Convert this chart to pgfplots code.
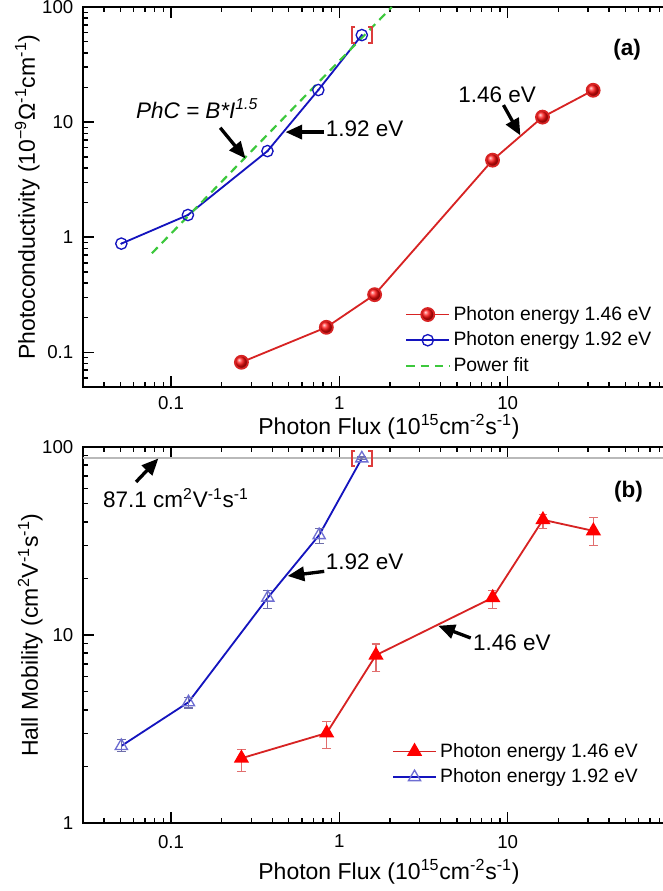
\documentclass[border=0pt]{standalone}
\usepackage{fontspec}
\setmainfont{Liberation Sans}
\usepackage{pgfplots}
\pgfplotsset{compat=1.18}
\usetikzlibrary{arrows.meta,calc}
\definecolor{redline}{RGB}{215,35,35}
\definecolor{blueline}{RGB}{20,20,190}
\definecolor{greenfit}{RGB}{60,200,60}
\definecolor{bluetri}{RGB}{110,110,210}
\definecolor{rederr}{RGB}{225,110,110}
\definecolor{blueerr}{RGB}{110,110,170}
\definecolor{refgray}{RGB}{185,185,185}
\definecolor{bracketred}{RGB}{220,60,60}

\tikzset{
  arr/.style={-{Triangle[length=10pt,width=8.5pt]}, line width=2pt, black},
  ann/.style={font=\fontsize{13.5}{16}\selectfont, inner sep=0pt},
}

\begin{document}
\begin{tikzpicture}
% ---------------- Panel (a)
\begin{axis}[
  xmode=log, ymode=log,
  scale only axis,
  width=355.8pt, height=228pt,
  xmin=0.03, xmax=100,
  ymin=0.05, ymax=100,
  axis line style={line width=1.1pt},
  every tick/.style={black, line width=0.9pt},
  major tick length=6.6pt, minor tick length=3.3pt,
  tick align=inside,
  xtick={0.1,1,10}, xticklabels={0.1,1,10},
  minor xtick={0.03,0.04,0.05,0.06,0.07,0.08,0.09,0.2,0.3,0.4,0.5,0.6,0.7,0.8,0.9,2,3,4,5,6,7,8,9,20,30,40,50,60,70,80,90},
  ytick={0.1,1,10,100}, yticklabels={0.1,1,10,100},
  minor ytick={0.05,0.06,0.07,0.08,0.09,0.2,0.3,0.4,0.5,0.6,0.7,0.8,0.9,2,3,4,5,6,7,8,9,20,30,40,50,60,70,80,90},
  tick label style={font=\fontsize{11.2}{13}\selectfont},
  y tick label style={xshift=-2.3pt},
  x tick label style={yshift=-2pt},
  label style={font=\fontsize{13.8}{16}\selectfont},
  xlabel={Photon Flux (10\textsuperscript{15}cm\textsuperscript{-2}s\textsuperscript{-1})},
  ylabel={Photoconductivity (10\textsuperscript{−9}Ω\textsuperscript{-1}cm\textsuperscript{-1})},
  xlabel style={at={(axis description cs:0.516,0)}, anchor=center, yshift=-24pt},
  ylabel style={at={(axis description cs:-0.094,0.5)}, anchor=center},
  legend style={draw=none, fill=none, font=\fontsize{11.6}{13}\selectfont, row sep=1.5pt, cells={anchor=west}, inner sep=0pt, at={(0.543,0.222)}, anchor=north west},
  legend image code/.code={\draw[mark repeat=2,mark phase=2] plot coordinates {(0cm,0cm) (0.45cm,0cm) (0.9cm,0cm)};},
  /pgf/number format/assume math mode=true,
]
\addplot[redline, line width=1.1pt, mark=ball, mark size=3.9pt, mark options={ball color=red!95!white}] coordinates {
  (0.262,0.082) (0.837,0.165) (1.62,0.317) (8.13,4.67) (16.1,11.05) (32.2,18.9)};
\addlegendentry{Photon energy 1.46 eV}
\addplot[blueline, line width=1.1pt, mark=o, mark size=3.4pt, mark options={line width=0.8pt, fill=white}] coordinates {
  (0.0507,0.88) (0.126,1.56) (0.374,5.6) (0.75,19.0) (1.36,57)};
\addlegendentry{Photon energy 1.92 eV}
\addplot[greenfit, line width=1.3pt, dash pattern=on 5pt off 3.5pt] coordinates {
  (0.077,0.726) (0.4,8.60) (2.05,99.8)};
\addlegendentry{Power fit}
\addplot[blueline, only marks, mark=*, mark size=0.45pt, forget plot] coordinates {
  (0.0507,0.88) (0.126,1.56) (0.374,5.6) (0.75,19.0) (1.36,57)};
% bracket
\draw[bracketred, line width=0.9pt] ($(axis cs:1.36,57)+(-4pt,4.8pt)$) -- ++(-2pt,0pt) -- ++(0pt,-9.6pt) -- ++(2pt,0pt);
\draw[bracketred, line width=0.9pt] ($(axis cs:1.36,57)+(4pt,4.8pt)$) -- ++(2pt,0pt) -- ++(0pt,-9.6pt) -- ++(-2pt,0pt);
% annotations
\node[ann] at (axis cs:0.143,13.06) {\textit{PhC = B*I}\textsuperscript{\textit{1.5}}};
\draw[arr] (axis cs:0.196,8.93) -- (axis cs:0.277,4.83);
\node[ann, anchor=west] at (axis cs:0.827,8.81) {1.92 eV};
\draw[arr] (axis cs:0.813,8.19) -- (axis cs:0.479,8.19);
\node[ann] at (axis cs:8.66,17.4) {1.46 eV};
\draw[arr] (axis cs:9.44,14.06) -- (axis cs:11.9,7.66);
\node[ann] at (axis cs:51.3,42.8) {\bfseries (a)};
\end{axis}

% ---------------- Panel (b)
\begin{axis}[
  at={(0,-36pt)}, anchor=north west,
  xmode=log, ymode=log,
  scale only axis,
  width=355.8pt, height=225.6pt,
  xmin=0.03, xmax=100,
  ymin=1, ymax=100,
  axis line style={line width=1.1pt},
  every tick/.style={black, line width=0.9pt},
  major tick length=6.6pt, minor tick length=3.3pt,
  tick align=inside,
  xtick={0.1,1,10}, xticklabels={0.1,1,10},
  minor xtick={0.03,0.04,0.05,0.06,0.07,0.08,0.09,0.2,0.3,0.4,0.5,0.6,0.7,0.8,0.9,2,3,4,5,6,7,8,9,20,30,40,50,60,70,80,90},
  ytick={1,10,100}, yticklabels={1,10,100},
  minor ytick={2,3,4,5,6,7,8,9,20,30,40,50,60,70,80,90},
  tick label style={font=\fontsize{11.2}{13}\selectfont},
  y tick label style={xshift=-2.3pt},
  x tick label style={yshift=-3.7pt},
  label style={font=\fontsize{13.8}{16}\selectfont},
  xlabel={Photon Flux (10\textsuperscript{15}cm\textsuperscript{-2}s\textsuperscript{-1})},
  ylabel={Hall Mobility (cm\textsuperscript{2}V\textsuperscript{-1}s\textsuperscript{-1})},
  xlabel style={at={(axis description cs:0.516,0)}, anchor=center, yshift=-29.4pt},
  ylabel style={at={(axis description cs:-0.089,0.5)}, anchor=center},
  legend style={draw=none, fill=none, font=\fontsize{11.6}{13}\selectfont, row sep=1.5pt, cells={anchor=west}, inner sep=0pt, at={(0.521,0.222)}, anchor=north west},
  legend image code/.code={\draw[mark repeat=2,mark phase=2] plot coordinates {(0cm,0cm) (0.45cm,0cm) (0.9cm,0cm)};},
  /pgf/number format/assume math mode=true,
]
\addplot[refgray, line width=1.3pt, forget plot] coordinates {(0.03,87.1) (100,87.1)};
\addplot[redline, line width=1.1pt, mark=triangle*, mark size=4.2pt, mark options={fill=red, draw=red},
  error bars/.cd, y dir=both, y explicit, error bar style={rederr, line width=0.7pt},
  error mark options={rederr, rotate=90, mark size=2.6pt, line width=0.7pt}]
  table[x=x, y=y, y error plus=ep, y error minus=em] {
x y ep em
0.262 2.21 0.26 0.33
0.841 3.01 0.47 0.51
1.65 7.81 1.14 1.42
8.15 15.8 1.5 1.9
16.2 41.0 2.9 4.3
32.3 35.8 6.4 5.9
};
\addlegendentry{Photon energy 1.46 eV}
\addplot[blueline, line width=1.1pt, mark=triangle, mark size=4.2pt, mark options={bluetri, line width=0.8pt, fill=white},
  error bars/.cd, y dir=both, y explicit, error bar style={blueerr, line width=0.7pt},
  error mark options={blueerr, rotate=90, mark size=2.6pt, line width=0.7pt}]
  table[x=x, y=y, y error plus=ep, y error minus=em] {
x y ep em
0.0507 2.57 0.2 0.18
0.127 4.39 0.25 0.3
0.376 15.8 1.5 1.9
0.759 34.0 2.7 3.3
1.36 87.0 1.5 1.5
};
\addlegendentry{Photon energy 1.92 eV}
% bracket
\draw[bracketred, line width=0.9pt] ($(axis cs:1.36,87.0)+(-4pt,4.5pt)$) -- ++(-2pt,0pt) -- ++(0pt,-9pt) -- ++(2pt,0pt);
\draw[bracketred, line width=0.9pt] ($(axis cs:1.36,87.0)+(4pt,4.5pt)$) -- ++(2pt,0pt) -- ++(0pt,-9pt) -- ++(-2pt,0pt);
% annotations
\node[ann] at (axis cs:0.107,53.5) {87.1 cm\textsuperscript{2}V\textsuperscript{-1}s\textsuperscript{-1}};
\draw[arr] (axis cs:0.062,65.2) -- (axis cs:0.0841,86.9);
\node[ann, anchor=west] at (axis cs:0.827,24.5) {1.92 eV};
\draw[arr] (axis cs:0.813,21.8) -- (axis cs:0.493,20.6);
\node[ann, anchor=west] at (axis cs:6.2,9.14) {1.46 eV};
\draw[arr] (axis cs:6.03,9.64) -- (axis cs:3.87,11.2);
\node[ann] at (axis cs:52.2,58.1) {\bfseries (b)};
\end{axis}
\pgfresetboundingbox
\path[use as bounding box] (-49.8pt,-302.4pt) rectangle (347.4pt,232.2pt);
\end{tikzpicture}
\end{document}
